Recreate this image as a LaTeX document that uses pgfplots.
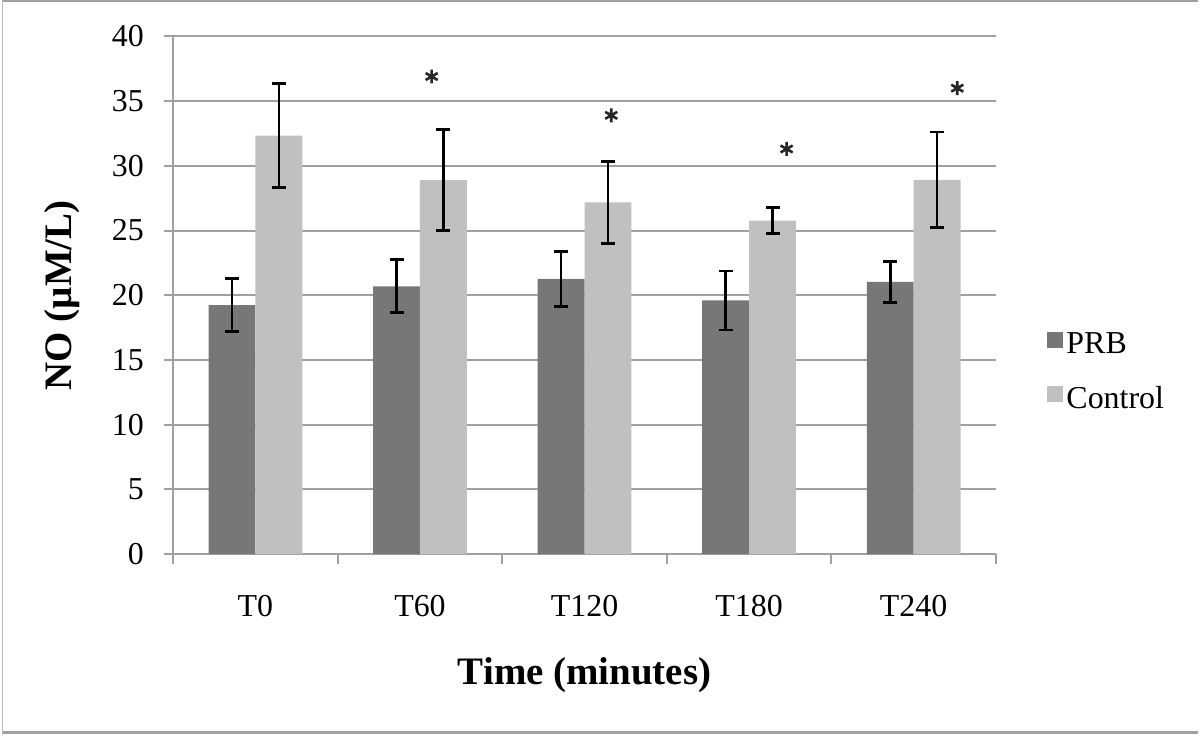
\documentclass[border=0pt]{standalone}
\usepackage{fontspec}
\setmainfont{Liberation Serif}
\usepackage{pgfplots}
\pgfplotsset{compat=1.18}
\definecolor{prb}{HTML}{777777}
\definecolor{ctl}{HTML}{C0C0C0}
\definecolor{gridc}{HTML}{A0A0A0}
\begin{document}
\begin{tikzpicture}
\begin{axis}[
  name=ax,
  scale only axis, width=412.5pt, height=259.5pt,
  xmin=-0.5, xmax=4.5, ymin=0, ymax=40,
  xtick={0,1,2,3,4}, xticklabels={T0,T60,T120,T180,T240},
  minor xtick={-0.5,0.5,1.5,2.5,3.5,4.5},
  ytick={0,5,...,40},
  axis x line*=bottom, axis y line*=left,
  axis line style={gridc, line width=1pt, -},
  tick align=outside,
  major tick length=4.5pt, minor tick length=5pt,
  major x tick style={draw=none},
  minor x tick style={gridc, line width=1pt},
  y tick style={gridc, line width=1pt},
  ymajorgrids, major grid style={gridc, line width=1pt},
  /pgf/number format/assume math mode=true,
  tick label style={font=\fontsize{16}{19}\selectfont, inner sep=0pt},
  xticklabel style={yshift=-16pt},
  yticklabel style={xshift=-10pt},
  every axis y label/.style={at={(rel axis cs:0,0.5)}, xshift=-46.5pt, rotate=90, anchor=south, inner sep=0pt, font=\fontsize{19.5}{22}\selectfont\bfseries},
  every axis x label/.style={at={(rel axis cs:0.5,0)}, yshift=-51.5pt, anchor=north, inner sep=0pt, font=\fontsize{19.5}{22}\selectfont\bfseries},
  ylabel={NO (µM/L)},
  xlabel={Time (minutes)},
  legend style={draw=none, fill=none, at={(1.061,0.351)}, anchor=west, font=\fontsize{16}{19}\selectfont, row sep=11pt, inner sep=0pt},
  legend cell align=left,
  clip=false,
]
\addplot[ybar, bar width=23.5pt, bar shift=0pt, fill=prb, draw=none,
  legend image code/.code={\fill[prb] (0pt,-1.5pt) rectangle (8pt,6.5pt);},
  error bars/.cd, y dir=both, y explicit,
  error bar style={black, line width=1.35pt},
  error mark options={rotate=90, black, mark size=3.5pt, line width=1.35pt}]
  coordinates {(-0.1424,19.23) +- (0,2.05) (0.8576,20.69) +- (0,2.05) (1.8576,21.26) +- (0,2.13) (2.8576,19.6) +- (0,2.28) (3.8576,21.03) +- (0,1.58)};
\addlegendentry{PRB}
\addplot[ybar, bar width=23.5pt, bar shift=0pt, fill=ctl, draw=none,
  legend image code/.code={\fill[ctl] (0pt,-1.5pt) rectangle (8pt,6.5pt);},
  error bars/.cd, y dir=both, y explicit,
  error bar style={black, line width=1.35pt},
  error mark options={rotate=90, black, mark size=3.5pt, line width=1.35pt}]
  coordinates {(0.1424,32.33) +- (0,4.01) (1.1424,28.9) +- (0,3.88) (2.1424,27.18) +- (0,3.17) (3.1424,25.77) +- (0,0.99) (4.1424,28.92) +- (0,3.7)};
\addlegendentry{Control}
\addplot[only marks, forget plot, mark=asterisk, mark size=3.5pt, mark options={draw=black!85, line width=1.3pt}]
  coordinates {(1.071,36.9) (2.162,33.9) (3.228,31.3) (4.265,36.0)};
\end{axis}
\path (ax.south west) ++(-86pt,-90.5pt) coordinate (bl);
\path (bl) rectangle ++(600pt,368pt);
\draw[gridc, line width=1pt] ([yshift=367.5pt]bl) -- ++(600pt,0);
\draw[gridc, line width=1.6pt] ([yshift=1pt]bl) -- ++(600pt,0);
\draw[gridc!70, line width=0.5pt] ([xshift=0.25pt]bl) -- ++(0,368pt);
\end{tikzpicture}
\end{document}
